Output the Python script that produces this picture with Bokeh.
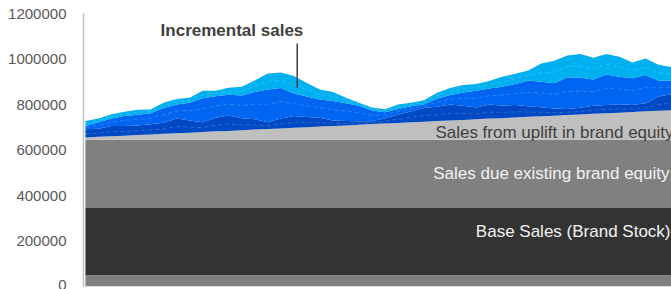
from bokeh.plotting import figure
from bokeh.models import ColumnDataSource, Range1d, FixedTicker, NumeralTickFormatter, Label
from bokeh.embed import file_html
from bokeh.resources import INLINE

# ---- data (weekly index, values in units) ----
weeks = list(range(46))
floor_band = [50000] * 46
base_sales = [295000] * 46
existing_equity = [300000] * 46
uplift_k = [10, 13, 15, 18, 21, 23, 26, 29, 31, 34, 37, 39, 42, 45, 47, 50, 53, 55, 58, 61,
            63, 66, 69, 71, 74, 77, 79, 82, 85, 87, 90, 93, 95, 98, 101, 103, 106, 109, 111, 114,
            117, 119, 122, 125, 127, 130]
incr_dark_k = [36, 35, 45, 43, 42, 45, 49, 64, 54, 43, 60, 68, 53, 45, 30, 43, 52, 45, 39, 24,
               20, 15, 12, 24, 36, 48, 61, 63, 70, 63, 52, 62, 56, 55, 46, 40, 31, 26, 30, 35,
               36, 37, 31, 35, 63, 70]
incr_mid_k = [15, 29, 33, 44, 47, 49, 65, 62, 78, 106, 94, 91, 100, 120, 144, 135, 98, 90, 80, 85,
              78, 69, 48, 26, 25, 22, 16, 35, 42, 58, 73, 70, 82, 92, 113, 112, 111, 140, 132, 116,
              134, 121, 117, 125, 70, 59]
incr_light_k = [22, 16, 19, 18, 22, 16, 23, 24, 22, 32, 24, 31, 38, 50, 70, 68, 77, 60, 44, 40,
                24, 13, 13, 13, 20, 16, 18, 27, 30, 33, 30, 33, 44, 45, 45, 80, 99, 95, 104, 95,
                90, 88, 70, 72, 70, 61]
y_ticks = [0, 200000, 400000, 600000, 800000, 1000000, 1200000]

uplift = [v * 1000 for v in uplift_k]
dark = [v * 1000 for v in incr_dark_k]
mid = [v * 1000 for v in incr_mid_k]
light = [v * 1000 for v in incr_light_k]

src = ColumnDataSource(dict(
    x=weeks, floor=floor_band, base=base_sales, existing=existing_equity,
    uplift=uplift, dark=dark, mid=mid, light=light,
))

p = figure(width=671, height=289, output_backend="svg", toolbar_location=None,
           x_range=Range1d(-0.15, 45), y_range=Range1d(0, 1200000),
           min_border_left=83, min_border_right=0, min_border_top=13, min_border_bottom=3)
p.outline_line_color = None
p.xgrid.visible = False
p.ygrid.visible = False
p.xaxis.visible = False

stackers = ["floor", "base", "existing", "uplift", "dark", "mid", "light"]
colors = ["#808080", "#333333", "#808080", "#BFBFBF", "#0049C4", "#0066F2", "#00B0F0"]
p.varea_stack(stackers=stackers, x="x", color=colors, source=src)

# faint dashed sub-series boundaries inside the incremental bands
cum_dark_base = [f + b + e + u for f, b, e, u in zip(floor_band, base_sales, existing_equity, uplift)]
cum_mid_base = [c + d for c, d in zip(cum_dark_base, dark)]
cum_light_base = [c + m for c, m in zip(cum_mid_base, mid)]
for base_list, band, frac in [(cum_dark_base, dark, 0.45), (cum_mid_base, mid, 0.55),
                              (cum_light_base, light, 0.5)]:
    ys = [b + frac * v for b, v in zip(base_list, band)]
    p.line(weeks, ys, line_color="white", line_alpha=0.18, line_width=1, line_dash="4 3")

yax = p.yaxis[0]
yax.ticker = FixedTicker(ticks=y_ticks)
yax.formatter = NumeralTickFormatter(format="0")
yax.major_tick_line_color = None
yax.minor_tick_line_color = None
yax.axis_line_color = "#BFBFBF"
yax.axis_line_width = 1.5
yax.major_label_text_font = "Liberation Sans"
yax.major_label_text_font_size = "15px"
yax.major_label_text_color = "#595959"
yax.major_label_standoff = 11

font = "Liberation Sans"
p.add_layout(Label(x=11.25, y=1125000, text="Incremental sales", text_font=font,
                   text_font_size="17px", text_font_style="bold", text_color="#404040",
                   text_align="center", text_baseline="middle"))
p.segment(x0=[16.26], y0=[1068000], x1=[16.26], y1=[874000], line_color="#404040", line_width=1.5)

p.add_layout(Label(x=45, y=676000, x_offset=2, text="Sales from uplift in brand equity", text_font=font,
                   text_font_size="17px", text_color="#404040", text_align="right", text_baseline="middle"))
p.add_layout(Label(x=45, y=495000, x_offset=-2, text="Sales due existing brand equity", text_font=font,
                   text_font_size="17px", text_color="#F2F2F2", text_align="right", text_baseline="middle"))
p.add_layout(Label(x=45, y=240000, x_offset=-1, text="Base Sales (Brand Stock)", text_font=font,
                   text_font_size="17px", text_color="#F2F2F2", text_align="right", text_baseline="middle"))

open("out.html", "w").write(file_html(p, INLINE))
